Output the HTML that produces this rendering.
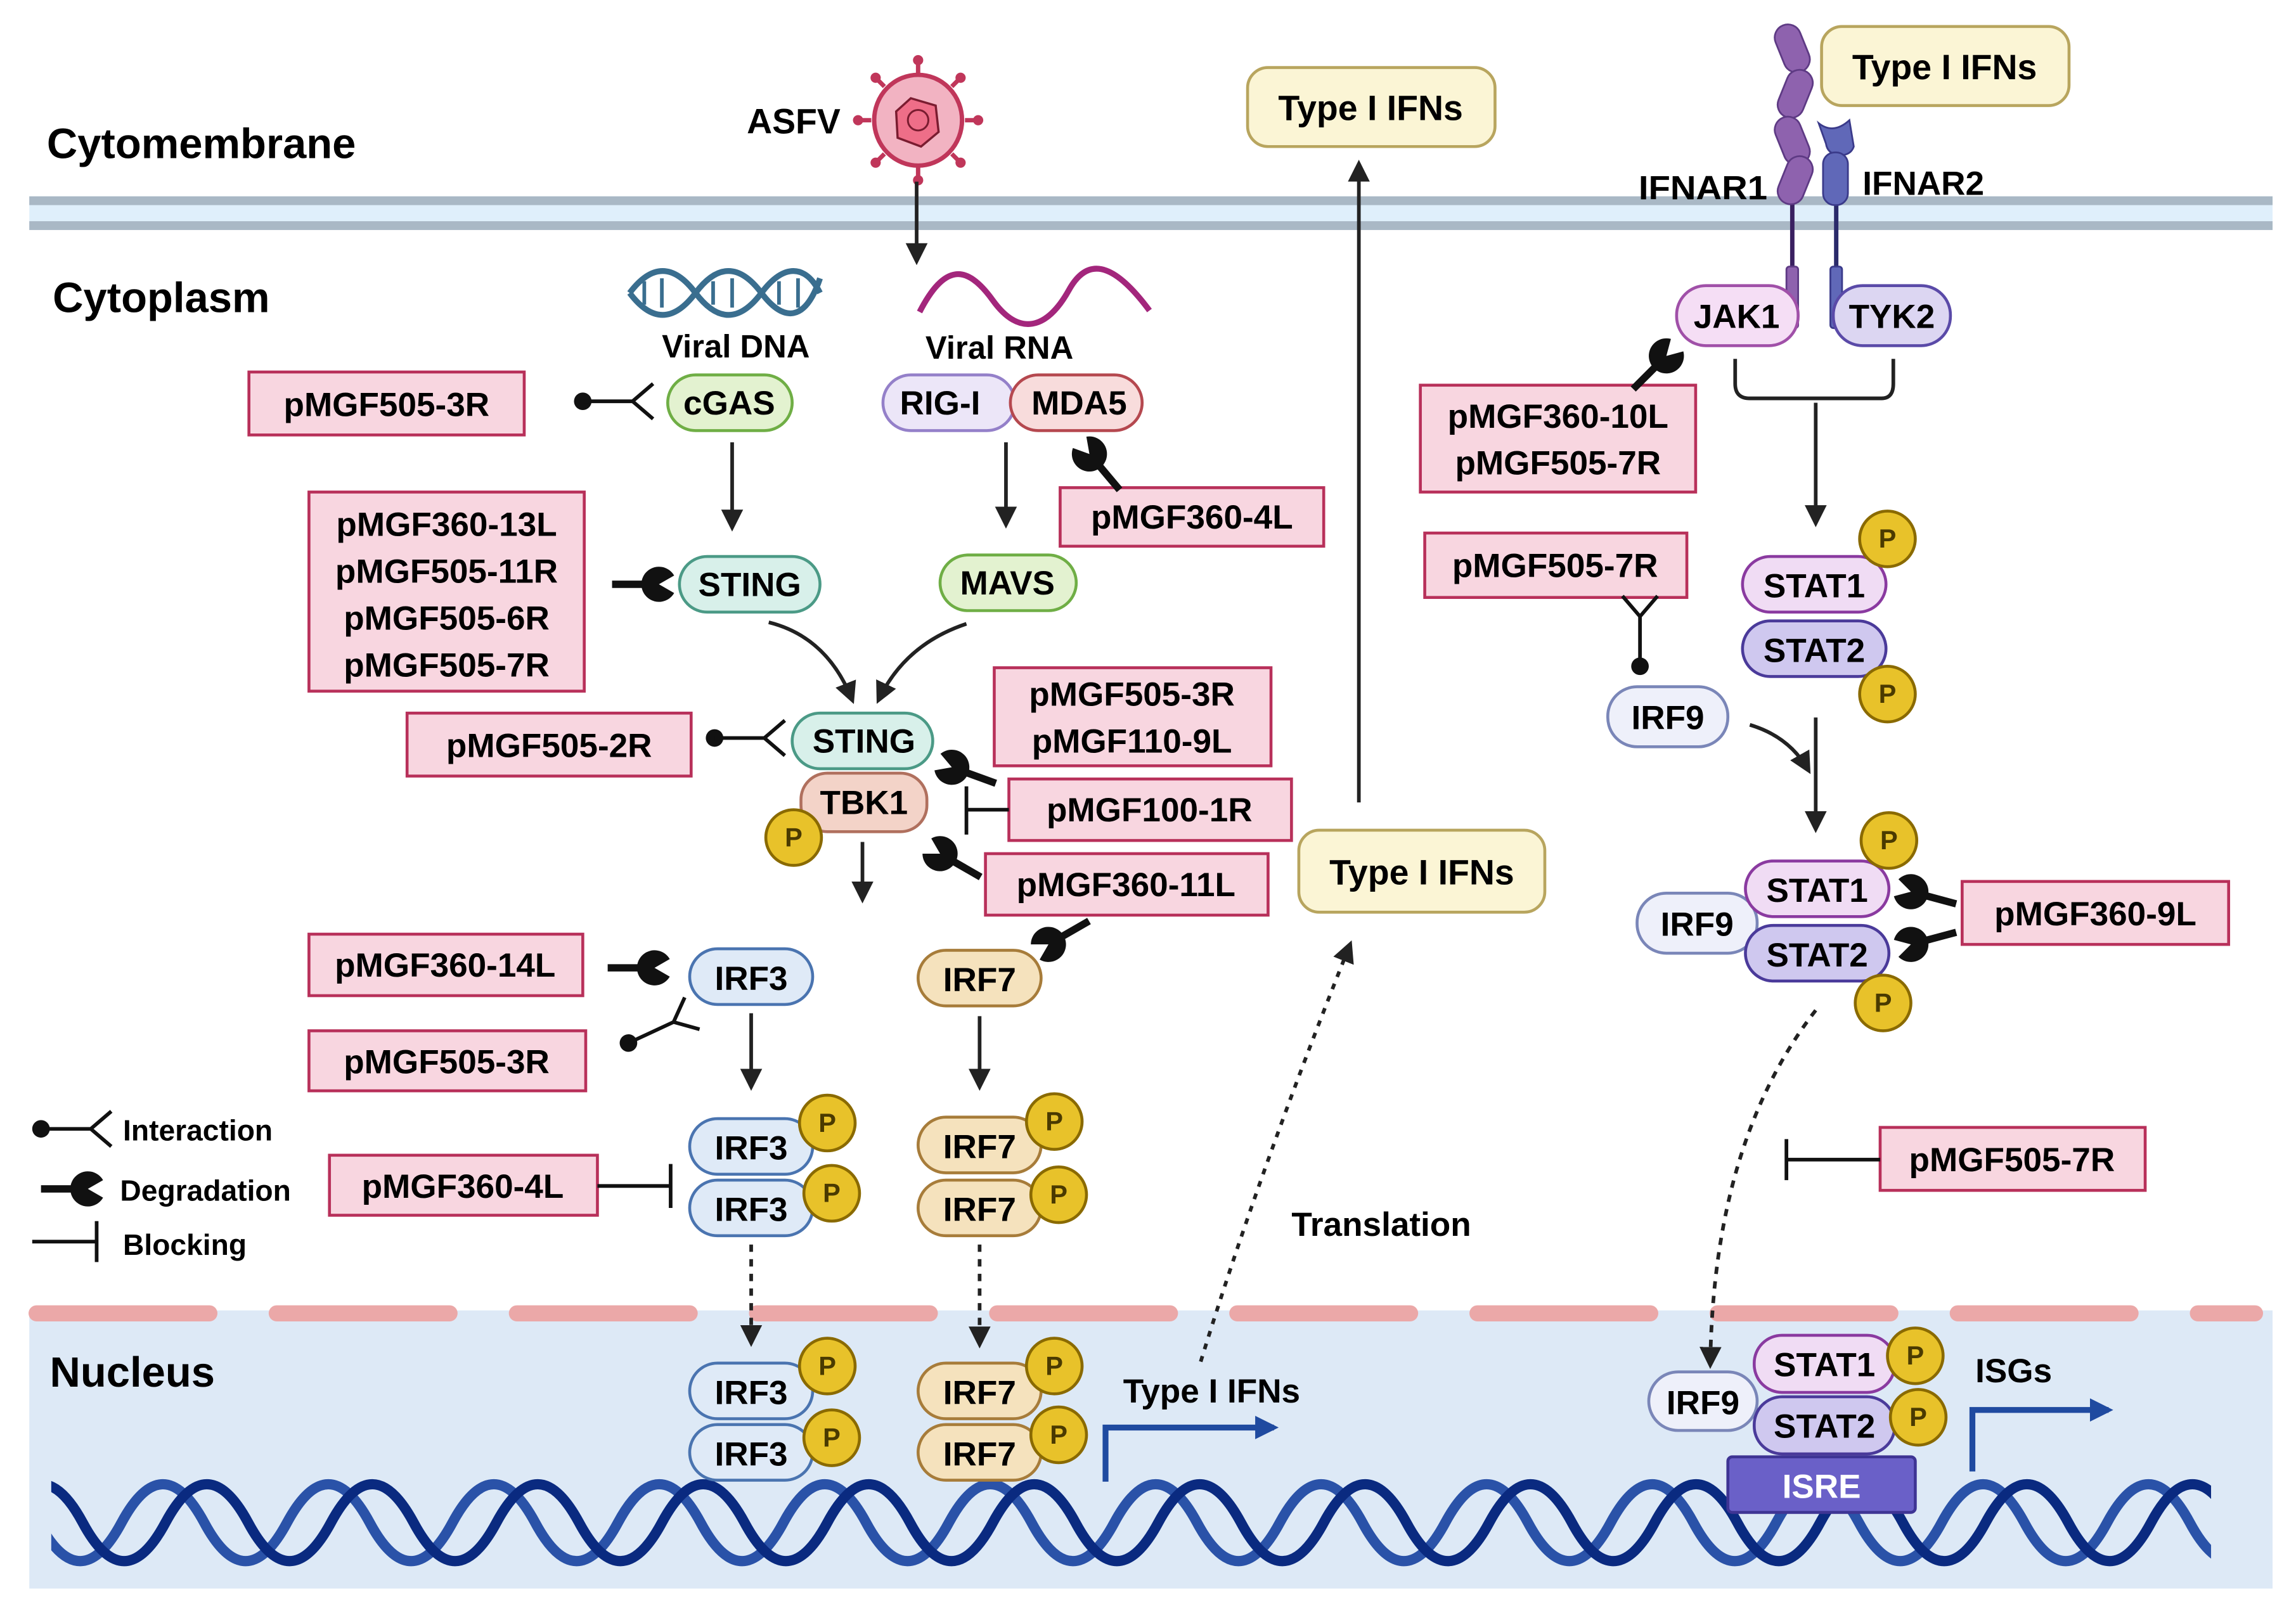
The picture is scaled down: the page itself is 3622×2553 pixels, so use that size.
<!DOCTYPE html>
<html><head><meta charset="utf-8"><style>
html,body{margin:0;padding:0;background:#fff}
svg{display:block}
text{font-family:"Liberation Sans",sans-serif;font-weight:bold}
</style></head><body>
<svg width="3622" height="2553" viewBox="0 0 1568 1105" xmlns="http://www.w3.org/2000/svg">
<defs>
<marker id="ah" viewBox="0 0 10 10" refX="8" refY="5" markerWidth="6" markerHeight="6" orient="auto"><path d="M0,0L10,5L0,10Z" fill="#222"/></marker>
<marker id="ahb" viewBox="0 0 10 10" refX="8" refY="5" markerWidth="4" markerHeight="4" orient="auto"><path d="M0,0L10,5L0,10Z" fill="#1f4aa0"/></marker>
<g id="deg"><path d="M-32,0L-8,0" stroke="#111" stroke-width="5"/><path d="M0,0L10.4,-6A12,12 0 1,0 10.4,6Z" fill="#111"/></g>
<g id="int"><circle cx="-34" cy="0" r="6" fill="#111"/><path d="M-34,0L0,0M14,-12L0,0L14,12" stroke="#111" stroke-width="2.5" fill="none"/></g>
<clipPath id="dnaclip"><rect x="35" y="1005" width="1475" height="70"/></clipPath>
<path id="strand" d="M-30,1040 c18.8,-35 37.7,-35 56.5,0 s37.7,35 56.5,0 s37.7,-35 56.5,0 s37.7,35 56.5,0 s37.7,-35 56.5,0 s37.7,35 56.5,0 s37.7,-35 56.5,0 s37.7,35 56.5,0 s37.7,-35 56.5,0 s37.7,35 56.5,0 s37.7,-35 56.5,0 s37.7,35 56.5,0 s37.7,-35 56.5,0 s37.7,35 56.5,0 s37.7,-35 56.5,0 s37.7,35 56.5,0 s37.7,-35 56.5,0 s37.7,35 56.5,0 s37.7,-35 56.5,0 s37.7,35 56.5,0 s37.7,-35 56.5,0 s37.7,35 56.5,0 s37.7,-35 56.5,0 s37.7,35 56.5,0 s37.7,-35 56.5,0 s37.7,35 56.5,0 s37.7,-35 56.5,0 s37.7,35 56.5,0 s37.7,-35 56.5,0" fill="none" stroke-width="7"/>
</defs>
<!-- nucleus -->
<rect x="20" y="895" width="1532" height="190" fill="#dde9f6"/>
<path d="M25,897H1540" stroke="#eba8a8" stroke-width="11" stroke-linecap="round" stroke-dasharray="118,46"/>
<g clip-path="url(#dnaclip)">
<use href="#strand" stroke="#2a52a8"/>
<use href="#strand" stroke="#0a2a80" transform="translate(30,0)"/>
</g>
<!-- membrane -->
<rect x="20" y="134" width="1532" height="23" fill="#dfeffb"/>
<rect x="20" y="134" width="1532" height="6" fill="#a9b8c5"/>
<rect x="20" y="151" width="1532" height="6" fill="#a9b8c5"/>
<text x="32" y="108" font-size="29">Cytomembrane</text>
<text x="36" y="213" font-size="29">Cytoplasm</text>
<text x="34" y="947" font-size="29">Nucleus</text>
<!-- ASFV -->
<text x="510" y="91" font-size="24">ASFV</text>
<g transform="translate(627,82)">
<g stroke="#c0365a" stroke-width="3">
<path d="M0,-32V-40M0,32V40M-32,0H-40M32,0H40M23,-23L29,-29M-23,-23L-29,-29M23,23L29,29M-23,23L-29,29"/>
</g>
<g fill="#c0365a"><circle cx="0" cy="-41" r="3.5"/><circle cx="0" cy="41" r="3.5"/><circle cx="-41" cy="0" r="3.5"/><circle cx="41" cy="0" r="3.5"/><circle cx="29" cy="-29" r="3.5"/><circle cx="-29" cy="-29" r="3.5"/><circle cx="29" cy="29" r="3.5"/><circle cx="-29" cy="29" r="3.5"/></g>
<ellipse rx="30" ry="31" fill="#f2b3c2" stroke="#c0365a" stroke-width="3"/>
<path d="M-5,-15L12,-10L14,8L2,18L-14,12L-15,-6Z" fill="#ee6e88" stroke="#7a1c30" stroke-width="1.5"/>
<circle r="7" fill="none" stroke="#7a1c30" stroke-width="1.3"/>
</g>
<path d="M626,124V178" stroke="#222" stroke-width="2.5" marker-end="url(#ah)"/>
<!-- viral DNA / RNA -->
<g stroke="#3a6e8f" stroke-width="4" fill="none">
<path d="M430,200C445,180 460,180 475,200S505,220 520,200S550,180 560,200"/>
<path d="M430,200C445,220 460,220 475,200S505,180 520,200S550,220 560,190"/>
<path d="M440,192V208M452,190V210M487,192V208M500,190V210M532,192V208M545,190V210" stroke-width="2.5"/>
</g>
<path d="M628,213C645,180 660,180 678,205S715,225 730,198S765,185 785,212" stroke="#a3267c" stroke-width="4" fill="none"/>
<text x="452" y="244" font-size="22">Viral DNA</text>
<text x="632" y="245" font-size="22">Viral RNA</text>
<!-- Type I IFN boxes -->
<g fill="#fbf5d5" stroke="#b8a55e" stroke-width="2">
<rect x="852" y="46" width="169" height="54" rx="14"/>
<rect x="1244" y="18" width="169" height="54" rx="14"/>
<rect x="887" y="567" width="168" height="56" rx="14"/>
</g>
<g font-size="24" text-anchor="middle">
<text x="936" y="82">Type I IFNs</text>
<text x="1328" y="54">Type I IFNs</text>
<text x="971" y="604">Type I IFNs</text>
</g>
<path d="M928,548V112" stroke="#222" stroke-width="2.5" marker-end="url(#ah)"/>
<path d="M820,930Q860,800 922,645" stroke="#222" stroke-width="2.5" stroke-dasharray="4,5" fill="none" marker-end="url(#ah)"/>
<text x="882" y="844" font-size="23">Translation</text>
<!-- receptors -->
<path d="M1224,138V184" stroke="#3a2060" stroke-width="3"/>
<path d="M1254,138V184" stroke="#2a2a6a" stroke-width="3"/>
<g fill="#8e62ae" stroke="#5e3a84" stroke-width="1.2">
<rect x="1215" y="16" width="18" height="34" rx="9" transform="rotate(-22 1224 33)"/>
<rect x="1217" y="47" width="18" height="34" rx="9" transform="rotate(22 1226 64)"/>
<rect x="1215" y="79" width="18" height="34" rx="9" transform="rotate(-22 1224 96)"/>
<rect x="1217" y="106" width="18" height="34" rx="9" transform="rotate(22 1226 123)"/>
<rect x="1220" y="182" width="8" height="42" rx="2"/>
</g>
<g fill="#6068b8" stroke="#3a3a8a" stroke-width="1.2">
<path d="M1242,84Q1252,92 1263,82L1266,100Q1264,106 1256,106Q1248,105 1247,98Z"/>
<rect x="1245" y="104" width="17" height="36" rx="8"/>
<rect x="1250" y="182" width="8" height="42" rx="2"/>
</g>
<text x="1119" y="136" font-size="23" textLength="88" lengthAdjust="spacingAndGlyphs">IFNAR1</text>
<text x="1272" y="133" font-size="23">IFNAR2</text>
<!-- nodes -->
<g stroke-width="2">
<rect x="456" y="256" width="85" height="38" rx="19" fill="#e3f2d0" stroke="#6fae45"/>
<rect x="603" y="256" width="90" height="38" rx="19" fill="#ece6f8" stroke="#9480c9"/>
<rect x="690" y="256" width="90" height="38" rx="19" fill="#f8dcdc" stroke="#b5484f"/>
<rect x="464" y="380" width="96" height="38" rx="19" fill="#d8f0ea" stroke="#4b9a86"/>
<rect x="642" y="379" width="93" height="38" rx="19" fill="#e3f2d0" stroke="#6fae45"/>
<rect x="547" y="528" width="86" height="40" rx="18" fill="#f3d3c8" stroke="#b0705e"/>
<rect x="541" y="487" width="96" height="38" rx="19" fill="#d8f0ea" stroke="#4b9a86"/>
<rect x="471" y="648" width="84" height="38" rx="19" fill="#dfeaf7" stroke="#4a74b0"/>
<rect x="627" y="649" width="84" height="38" rx="19" fill="#f5e2bd" stroke="#a77c3a"/>
<rect x="471" y="764" width="84" height="38" rx="19" fill="#dfeaf7" stroke="#4a74b0"/>
<rect x="471" y="806" width="84" height="38" rx="19" fill="#dfeaf7" stroke="#4a74b0"/>
<rect x="627" y="763" width="84" height="38" rx="19" fill="#f5e2bd" stroke="#a77c3a"/>
<rect x="627" y="806" width="84" height="38" rx="19" fill="#f5e2bd" stroke="#a77c3a"/>
<rect x="471" y="931" width="84" height="38" rx="19" fill="#dfeaf7" stroke="#4a74b0"/>
<rect x="471" y="973" width="84" height="38" rx="19" fill="#dfeaf7" stroke="#4a74b0"/>
<rect x="627" y="931" width="84" height="38" rx="19" fill="#f5e2bd" stroke="#a77c3a"/>
<rect x="627" y="973" width="84" height="38" rx="19" fill="#f5e2bd" stroke="#a77c3a"/>
<rect x="1145" y="195" width="83" height="41" rx="20" fill="#f5def5" stroke="#a050a8"/>
<rect x="1252" y="195" width="80" height="41" rx="20" fill="#dcd6f2" stroke="#5a4aa8"/>
<rect x="1190" y="380" width="98" height="38" rx="19" fill="#f0dcf4" stroke="#8a3aa0"/>
<rect x="1190" y="424" width="98" height="38" rx="19" fill="#cfc8ef" stroke="#4a3a9a"/>
<rect x="1098" y="469" width="82" height="41" rx="20" fill="#eef0fa" stroke="#7a86b8"/>
<rect x="1118" y="610" width="82" height="41" rx="20" fill="#eef0fa" stroke="#7a86b8"/>
<rect x="1192" y="588" width="98" height="38" rx="19" fill="#f0dcf4" stroke="#8a3aa0"/>
<rect x="1192" y="632" width="98" height="38" rx="19" fill="#cfc8ef" stroke="#4a3a9a"/>
<rect x="1126" y="937" width="74" height="40" rx="20" fill="#eef0fa" stroke="#7a86b8"/>
<rect x="1198" y="912" width="96" height="39" rx="19" fill="#f0dcf4" stroke="#8a3aa0"/>
<rect x="1198" y="954" width="96" height="39" rx="19" fill="#cfc8ef" stroke="#4a3a9a"/>
<rect x="1180" y="995" width="128" height="38" rx="3" fill="#6a60c8" stroke="#3e3494"/>
</g>
<g font-size="23" text-anchor="middle">
<text x="498" y="283">cGAS</text>
<text x="642" y="283">RIG-I</text>
<text x="737" y="283">MDA5</text>
<text x="512" y="407">STING</text>
<text x="688" y="406">MAVS</text>
<text x="590" y="514">STING</text>
<text x="590" y="556">TBK1</text>
<text x="513" y="676">IRF3</text>
<text x="669" y="677">IRF7</text>
<text x="513" y="792">IRF3</text>
<text x="513" y="834">IRF3</text>
<text x="669" y="791">IRF7</text>
<text x="669" y="834">IRF7</text>
<text x="513" y="959">IRF3</text>
<text x="513" y="1001">IRF3</text>
<text x="669" y="959">IRF7</text>
<text x="669" y="1001">IRF7</text>
<text x="1186" y="224">JAK1</text>
<text x="1292" y="224">TYK2</text>
<text x="1239" y="408">STAT1</text>
<text x="1239" y="452">STAT2</text>
<text x="1139" y="498">IRF9</text>
<text x="1159" y="639">IRF9</text>
<text x="1241" y="616">STAT1</text>
<text x="1241" y="660">STAT2</text>
<text x="1163" y="966">IRF9</text>
<text x="1246" y="940">STAT1</text>
<text x="1246" y="982">STAT2</text>
<text x="1244" y="1023" fill="#fff">ISRE</text>
</g>
<!-- P circles -->
<g fill="#e8c22a" stroke="#8a6a00" stroke-width="2">
<circle cx="542" cy="572" r="19"/>
<circle cx="565" cy="767" r="19"/><circle cx="568" cy="815" r="19"/>
<circle cx="720" cy="766" r="19"/><circle cx="723" cy="816" r="19"/>
<circle cx="565" cy="933" r="19"/><circle cx="568" cy="982" r="19"/>
<circle cx="720" cy="933" r="19"/><circle cx="723" cy="980" r="19"/>
<circle cx="1289" cy="368" r="19"/><circle cx="1289" cy="474" r="19"/>
<circle cx="1290" cy="574" r="19"/><circle cx="1286" cy="685" r="19"/>
<circle cx="1308" cy="926" r="19"/><circle cx="1310" cy="968" r="19"/>
</g>
<g font-size="18" text-anchor="middle" fill="#4a3a00">
<text x="542" y="578">P</text>
<text x="565" y="773">P</text><text x="568" y="821">P</text>
<text x="720" y="772">P</text><text x="723" y="822">P</text>
<text x="565" y="939">P</text><text x="568" y="988">P</text>
<text x="720" y="939">P</text><text x="723" y="986">P</text>
<text x="1289" y="374">P</text><text x="1289" y="480">P</text>
<text x="1290" y="580">P</text><text x="1286" y="691">P</text>
<text x="1308" y="932">P</text><text x="1310" y="974">P</text>
</g>
<!-- pink boxes -->
<g fill="#f8d6e0" stroke="#b8305a" stroke-width="2">
<rect x="170" y="254" width="188" height="43"/>
<rect x="211" y="336" width="188" height="136"/>
<rect x="278" y="487" width="194" height="43"/>
<rect x="679" y="456" width="189" height="67"/>
<rect x="689" y="532" width="193" height="42"/>
<rect x="673" y="583" width="193" height="42"/>
<rect x="724" y="333" width="180" height="40"/>
<rect x="211" y="638" width="187" height="42"/>
<rect x="211" y="704" width="189" height="41"/>
<rect x="225" y="789" width="183" height="41"/>
<rect x="970" y="263" width="188" height="73"/>
<rect x="973" y="364" width="179" height="44"/>
<rect x="1340" y="602" width="182" height="43"/>
<rect x="1284" y="770" width="181" height="43"/>
</g>
<g font-size="23" text-anchor="middle">
<text x="264" y="284">pMGF505-3R</text>
<text x="305" y="366">pMGF360-13L</text>
<text x="305" y="398">pMGF505-11R</text>
<text x="305" y="430">pMGF505-6R</text>
<text x="305" y="462">pMGF505-7R</text>
<text x="375" y="517">pMGF505-2R</text>
<text x="773" y="482">pMGF505-3R</text>
<text x="773" y="514">pMGF110-9L</text>
<text x="785" y="561">pMGF100-1R</text>
<text x="769" y="612">pMGF360-11L</text>
<text x="814" y="361">pMGF360-4L</text>
<text x="304" y="667">pMGF360-14L</text>
<text x="305" y="733">pMGF505-3R</text>
<text x="316" y="818">pMGF360-4L</text>
<text x="1064" y="292">pMGF360-10L</text>
<text x="1064" y="324">pMGF505-7R</text>
<text x="1062" y="394">pMGF505-7R</text>
<text x="1431" y="632">pMGF360-9L</text>
<text x="1374" y="800">pMGF505-7R</text>
</g>
<!-- arrows -->
<g stroke="#222" stroke-width="2.5" fill="none" marker-end="url(#ah)">
<path d="M500,302V360"/>
<path d="M687,302V358"/>
<path d="M525,425Q565,435 582,478"/>
<path d="M660,426Q618,440 600,478"/>
<path d="M589,575V614"/>
<path d="M513,692V742"/>
<path d="M669,694V742"/>
<path d="M1240,275V357"/>
<path d="M1195,495Q1222,503 1235,526"/>
<path d="M1240,490V566"/>
</g>
<g stroke="#222" stroke-width="2.5" fill="none" stroke-dasharray="5,5" marker-end="url(#ah)">
<path d="M513,850V917"/>
<path d="M669,850V918"/>
<path d="M1240,690Q1170,780 1168,932"/>
</g>
<path d="M1185,245V262Q1185,272 1195,272H1285Q1293,272 1293,262V245" stroke="#222" stroke-width="2.5" fill="none"/>
<path d="M755,1012V975H870" stroke="#1f4aa0" stroke-width="4" fill="none" marker-end="url(#ahb)"/>
<path d="M1347,1005V963H1440" stroke="#1f4aa0" stroke-width="4" fill="none" marker-end="url(#ahb)"/>
<text x="767" y="958" font-size="23">Type I IFNs</text>
<text x="1349" y="944" font-size="23">ISGs</text>
<!-- inhibition glyphs -->
<use href="#int" transform="translate(432,274)"/>
<use href="#int" transform="translate(522,504)"/>
<use href="#int" transform="translate(460,698) rotate(-25)"/>
<use href="#int" transform="translate(1120,421) rotate(-90)"/>
<use href="#deg" transform="translate(450,399)"/>
<use href="#deg" transform="translate(650,524) rotate(200)"/>
<use href="#deg" transform="translate(744,310) rotate(230)"/>
<use href="#deg" transform="translate(642,583) rotate(210)"/>
<use href="#deg" transform="translate(716,645) rotate(150)"/>
<use href="#deg" transform="translate(447,661)"/>
<use href="#deg" transform="translate(1138,243) rotate(-45)"/>
<use href="#deg" transform="translate(1305,609) rotate(195)"/>
<use href="#deg" transform="translate(1305,645) rotate(165)"/>
<g stroke="#111" stroke-width="2.5">
<path d="M689,553H660M660,537V570"/>
<path d="M408,810H458M458,795V825"/>
<path d="M1284,792H1220M1220,778V806"/>
</g>
<!-- legend -->
<use href="#int" transform="translate(62,771)"/>
<use href="#deg" transform="translate(60,812)"/>
<path d="M22,848H66M66,834V862" stroke="#111" stroke-width="2.5"/>
<g font-size="20">
<text x="84" y="779">Interaction</text>
<text x="82" y="820">Degradation</text>
<text x="84" y="857">Blocking</text>
</g>
</svg>
</body></html>
